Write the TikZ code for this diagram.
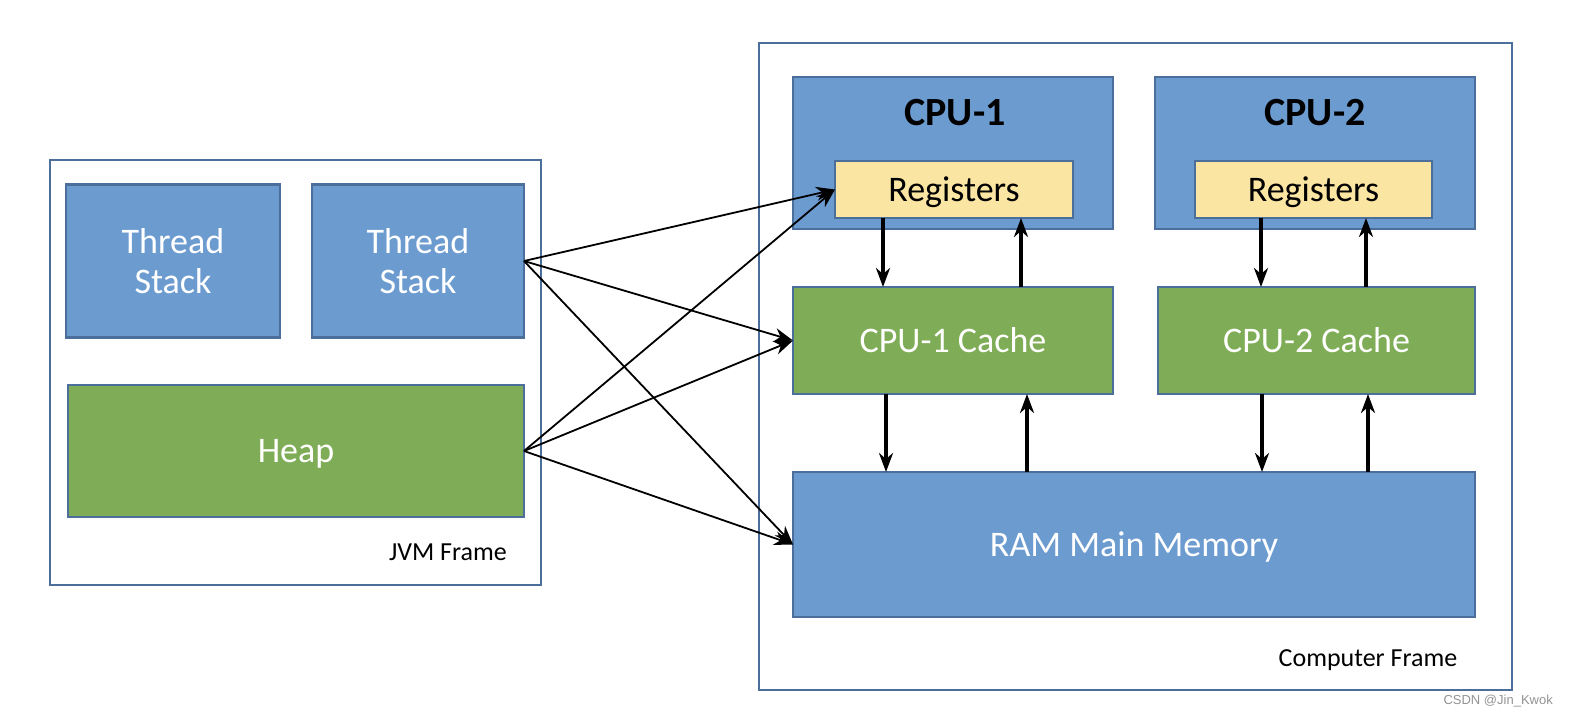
\documentclass[tikz,border=0pt]{standalone}
\usepackage{fontspec}
\setmainfont{Carlito}
\newfontfamily\wmfont{Liberation Sans}
\usetikzlibrary{arrows.meta}
\definecolor{bluefill}{HTML}{6C9BD0}
\definecolor{greenfill}{HTML}{7FAC56}
\definecolor{yellowfill}{HTML}{FBE5A2}
\definecolor{edgeblue}{HTML}{4B6E9B}
\tikzset{
  box/.style={draw=edgeblue, line width=2.2pt, inner sep=0pt, outer sep=0pt, align=center},
  frame/.style={box, fill=white},
  bluebox/.style={box, fill=bluefill, text=white},
  greenbox/.style={box, fill=greenfill, text=white},
  regbox/.style={box, fill=yellowfill, text=black},
  crossarrow/.style={line width=1.8pt, -{Stealth[length=19pt, width=14pt, inset=6pt]}},
  vertarrow/.style={line width=3.2pt, -{Stealth[length=19pt, width=14pt, inset=6pt]}},
  bigtext/.style={font=\fontsize{36}{40}\selectfont, text height=23pt, text depth=0pt},
  twoline/.style={font=\fontsize{36}{40}\selectfont},
  labeltext/.style={font=\fontsize{26}{30}\selectfont, inner sep=0pt},
}
\begin{document}
\begin{tikzpicture}[x=1pt, y=-1pt]
\useasboundingbox[fill=white] (0,0) rectangle (1570,716);
% JVM frame
\node[frame, minimum width=491pt, minimum height=425pt] (jvm) at (295.5,372.5) {};
\node[bluebox, twoline, minimum width=214pt, minimum height=153pt] (ts1) at (173,261) {Thread\\Stack};
\node[bluebox, twoline, minimum width=212pt, minimum height=153pt] (ts2) at (418,261) {Thread\\Stack};
\node[greenbox, bigtext, minimum width=456pt, minimum height=132pt] (heap) at (296,451) {Heap};
\node[labeltext, anchor=base east] (jvmlabel) at (507,560) {JVM Frame};
% Computer frame
\node[frame, minimum width=753pt, minimum height=647pt] (comp) at (1135.5,366.5) {};
\node[bluebox, minimum width=320pt, minimum height=152pt] (cpu1) at (953,153) {};
\node[bluebox, minimum width=320pt, minimum height=152pt] (cpu2) at (1315,153) {};
\node[font=\fontsize{40}{44}\selectfont\bfseries, anchor=base, inner sep=0pt] (cpu1t) at (955,125) {CPU-1};
\node[font=\fontsize{40}{44}\selectfont\bfseries, anchor=base, inner sep=0pt] (cpu2t) at (1315,125) {CPU-2};
\node[regbox, bigtext, minimum width=238pt, minimum height=57pt] (reg1) at (954,189.5) {Registers};
\node[regbox, bigtext, minimum width=237pt, minimum height=57pt] (reg2) at (1313.5,189.5) {Registers};
\node[greenbox, bigtext, minimum width=320pt, minimum height=107pt] (cache1) at (953,340.5) {CPU-1 Cache};
\node[greenbox, bigtext, minimum width=317pt, minimum height=107pt] (cache2) at (1316.5,340.5) {CPU-2 Cache};
\node[bluebox, bigtext, minimum width=682pt, minimum height=145pt] (ram) at (1134,544.5) {RAM Main Memory};
\node[labeltext, anchor=base] (complabel) at (1368,666) {Computer Frame};
\node[font=\wmfont\fontsize{13}{15}\selectfont, text=gray!85, anchor=base east, inner sep=0pt] (wm) at (1553,704) {CSDN @Jin\_Kwok};
% vertical guide coordinates
\coordinate (xa) at (883,0);
\coordinate (xb) at (1021,0);
\coordinate (xc) at (1261,0);
\coordinate (xd) at (1366,0);
\coordinate (xe) at (886,0);
\coordinate (xf) at (1027,0);
\coordinate (xg) at (1262,0);
\coordinate (xh) at (1368,0);
% vertical arrows
\draw[vertarrow] (reg1.south -| xa) -- (cache1.north -| xa);
\draw[vertarrow] (cache1.north -| xb) -- (reg1.south -| xb);
\draw[vertarrow] (reg2.south -| xc) -- (cache2.north -| xc);
\draw[vertarrow] (cache2.north -| xd) -- (reg2.south -| xd);
\draw[vertarrow] (cache1.south -| xe) -- (ram.north -| xe);
\draw[vertarrow] (ram.north -| xf) -- (cache1.south -| xf);
\draw[vertarrow] (cache2.south -| xg) -- (ram.north -| xg);
\draw[vertarrow] (ram.north -| xh) -- (cache2.south -| xh);
% cross arrows
\draw[crossarrow] (ts2.east) -- (reg1.west);
\draw[crossarrow] (ts2.east) -- (cache1.west);
\draw[crossarrow] (ts2.east) -- (ram.west);
\draw[crossarrow] (heap.east) -- (reg1.west);
\draw[crossarrow] (heap.east) -- (cache1.west);
\draw[crossarrow] (heap.east) -- (ram.west);
\end{tikzpicture}
\end{document}
